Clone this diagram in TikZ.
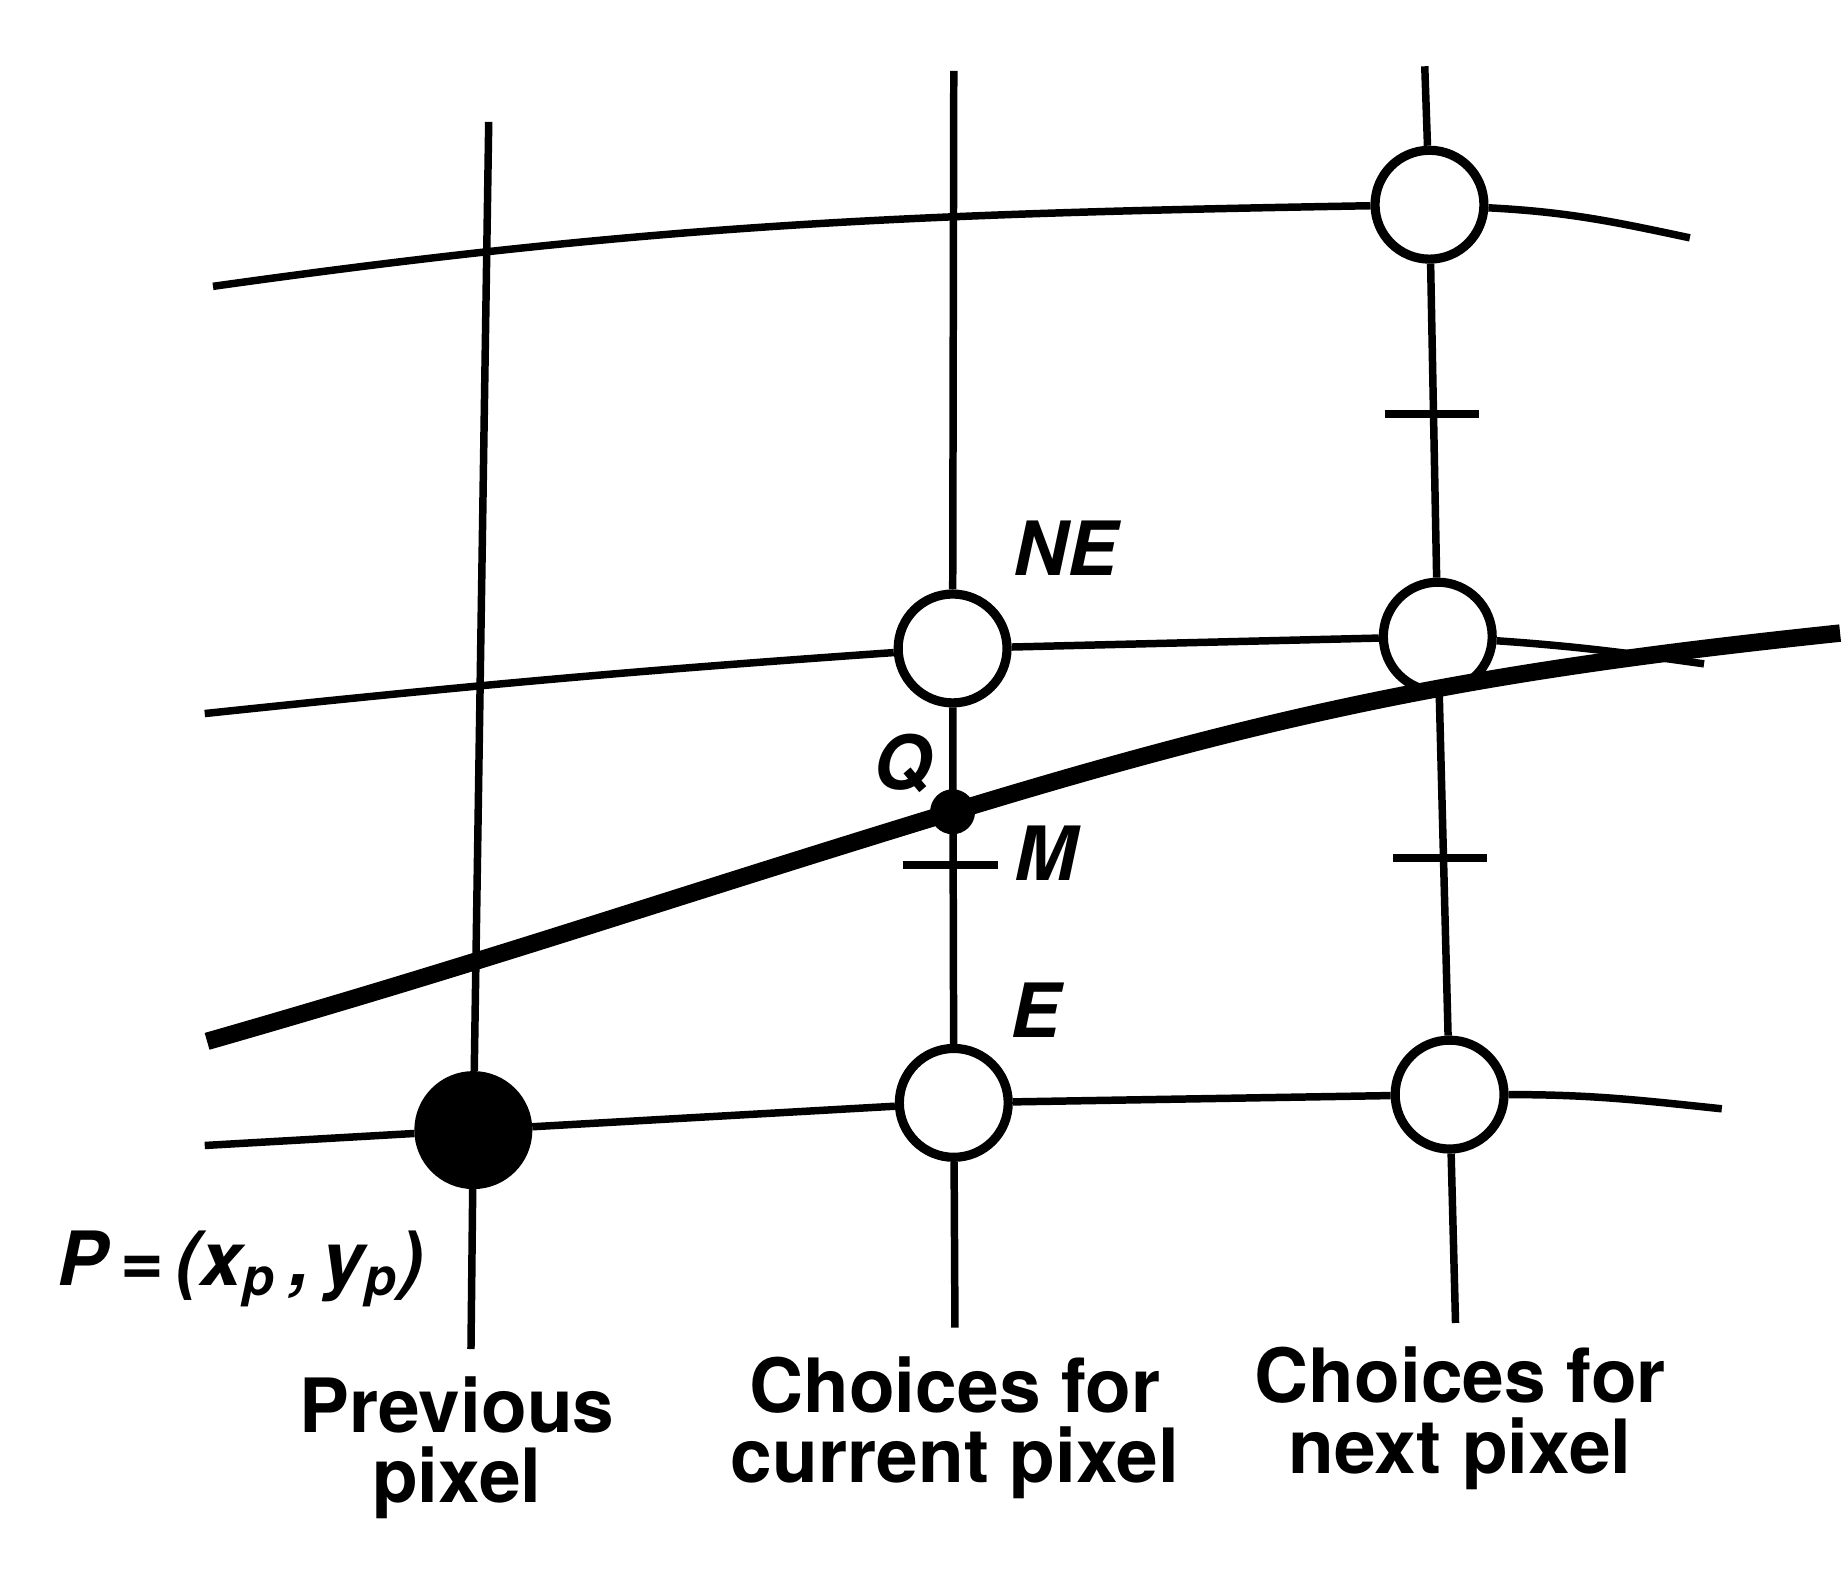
\documentclass[tikz,border=0pt]{standalone}
\usepackage{fontspec}
\setmainfont{TeX Gyre Heros}
\usetikzlibrary{calc}
\tikzset{
  pix/.style={circle, draw, line width=2.2pt, fill=white, minimum size=0.92cm, inner sep=0pt},
  lbl/.style={font=\fontsize{18}{17}\selectfont\bfseries\itshape, anchor=base, inner sep=0pt},
  pixcap/.style={font=\fontsize{18}{17}\selectfont\bfseries, align=center, anchor=base, inner sep=0pt}
}
\begin{document}
\begin{tikzpicture}[line width=1.8pt]
\useasboundingbox (0,0) rectangle (15.6,13.33);
\node[pix, fill=black] (p) at (4.00,3.78) {};
\node[pix] (e) at (8.06,4.01) {};
\node[pix] (ne) at (8.05,7.85) {};
\node[pix] (nxe) at (12.25,4.08) {};
\node[pix] (nxne) at (12.15,7.95) {};
\node[pix] (nxtop) at (12.08,11.60) {};
\coordinate (v1t) at (4.13,12.30);
\coordinate (v1b) at (3.98,1.93);
\coordinate (v2t) at (8.06,12.73);
\coordinate (v2b) at (8.07,2.11);
\coordinate (v3t) at (12.04,12.77);
\coordinate (v3b) at (12.30,2.15);
\draw (v1t) -- (p) -- (v1b);
\draw (v2t) -- (ne) -- (e) -- (v2b);
\draw (v3t) -- (nxtop) -- (nxne) -- (nxe) -- (v3b);
\coordinate (h1l) at (1.80,10.91);
\coordinate (h1r) at (14.28,11.32);
\coordinate (h2l) at (1.73,7.30);
\coordinate (h2r) at (14.40,7.72);
\coordinate (h3l) at (1.73,3.65);
\coordinate (h3r) at (14.55,3.96);
\draw (h1l) to[out=8,in=181] (nxtop) to[out=-3,in=168] (h1r);
\draw (h2l) to[out=6,in=184] (ne) -- (nxne) to[out=-4,in=172] (h2r);
\draw (h3l) -- (p) -- (e) -- (nxe) to[out=0,in=174] (h3r);
\node[circle, fill=black, minimum size=0.38cm, inner sep=0pt] (q) at (8.05,6.47) {};
\coordinate (c0) at (1.75,4.53);
\coordinate (c1) at (15.55,7.98);
\draw[line width=4.2pt] (c0) to[out=16,in=197] (q.center) to[out=17,in=186] (c1);
\coordinate (m) at (8.03,6.02);
\coordinate (t1) at (12.10,9.83);
\coordinate (t2) at (12.17,6.08);
\foreach \t in {m,t1,t2} \draw ($(\t)+(-0.4,0)$) -- ($(\t)+(0.4,0)$);
\node[lbl] (nelbl) at (9.00,8.47) {NE};
\node[lbl] (qlbl) at (7.63,6.66) {Q};
\node[lbl] (mlbl) at (8.84,5.89) {M};
\node[lbl] (elbl) at (8.75,4.56) {E};
\node[lbl] (plbl) at (2.03,2.47) {P\,=\,(x\textsubscript{p}\,,\,y\textsubscript{p})};
\node[pixcap] (prev) at (3.86,0.63) {Previous\\pixel};
\node[pixcap] (cur) at (8.07,0.80) {Choices for\\current pixel};
\node[pixcap] (nxt) at (12.34,0.88) {Choices for\\next pixel};
\end{tikzpicture}
\end{document}
